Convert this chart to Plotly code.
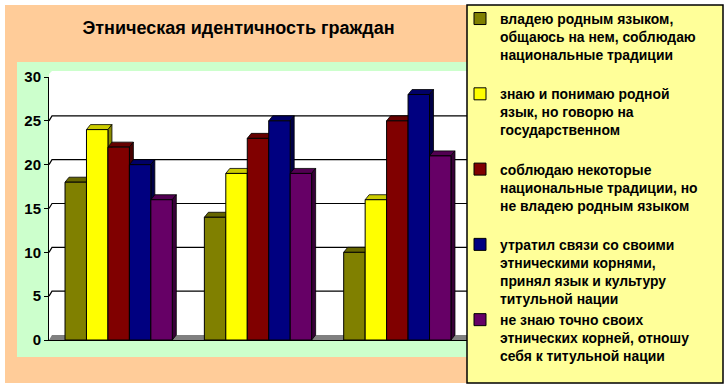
import plotly.graph_objects as go

# ---- data ----
categories = ["Группа 1", "Группа 2", "Группа 3"]
series_names = [
    "владею родным языком,<br>общаюсь на нем, соблюдаю<br>национальные традиции<br> ",
    "знаю и понимаю родной<br>язык, но говорю на<br>государственном<br> ",
    "соблюдаю некоторые<br>национальные традиции, но<br>не владею родным языком<br> ",
    "утратил связи со своими<br>этническими корнями,<br>принял язык и культуру<br>титульной нации",
    "не знаю точно своих<br>этнических корней, отношу<br>себя к титульной нации",
]
values_own_language = [18, 14, 10]
values_understand = [24, 19, 16]
values_some_traditions = [22, 23, 25]
values_lost_roots = [20, 25, 28]
values_unknown_roots = [16, 19, 21]
series_values = [values_own_language, values_understand, values_some_traditions,
                 values_lost_roots, values_unknown_roots]
y_ticks = [0, 5, 10, 15, 20, 25, 30]
title_text = "Этническая идентичность граждан"

# ---- style ----
colors = [(128, 128, 0), (255, 255, 0), (128, 0, 0), (0, 0, 128), (102, 0, 102)]
def rgb(c, k=1.0):
    return "rgb(%d,%d,%d)" % tuple(int(round(v * k)) for v in c)

W, H = 728, 389
L, R, T, B = 49, 467, 77, 340        # plot area in pixels
pw, ph = R - L, B - T
YMAX = 30
def px(X): return (X - L) / pw
def py(Y): return (B - Y) / ph

n = len(series_values)
bargap = 0.23
bw = (1 - bargap) / n
ddx = 4 / (pw / len(categories))     # depth offset in x units
ddy = 5 / (ph / YMAX)                # depth offset in y units
FONT = "Liberation Sans, Arial, sans-serif"

fig = go.Figure()
for j, (name, vals) in enumerate(zip(series_names, series_values)):
    fig.add_trace(go.Bar(
        x=categories, y=vals, name=name,
        marker=dict(color=rgb(colors[j]), line=dict(color="black", width=1)),
    ))

shapes = []
# backgrounds
shapes.append(dict(type="rect", xref="paper", yref="paper", x0=px(5), x1=px(467),
                   y0=py(383), y1=py(5), fillcolor="#FFCC99", line=dict(width=0), layer="below"))
shapes.append(dict(type="rect", xref="paper", yref="paper", x0=px(17), x1=px(467),
                   y0=py(357), y1=py(62), fillcolor="#CCFFCC", line=dict(width=0), layer="below"))
shapes.append(dict(type="path", xref="paper", yref="paper",
                   path="M %f,%f L %f,%f L %f,%f L %f,%f L %f,%f Z" % (
                       px(49), py(340), px(49), py(74), px(52), py(71), px(467), py(71), px(467), py(340)),
                   fillcolor="white", line=dict(width=0), layer="below"))
# floor
shapes.append(dict(type="path", xref="paper", yref="y",
                   path="M %f,0 L %f,%f L 1,%f L 1,0 Z" % (0, px(52), ddy, ddy),
                   fillcolor="#808080", line=dict(width=0), layer="below"))
# wall gridlines with diagonal connectors
for v in y_ticks[1:-1]:
    shapes.append(dict(type="path", xref="paper", yref="y",
                       path="M 0,%f L %f,%f L 1,%f" % (v, px(52), v + ddy, v + ddy),
                       line=dict(color="black", width=1.2), layer="below"))
# 3D faces of bars
for i in range(len(categories)):
    for j in range(n):
        v = series_values[j][i]
        xl = i - (1 - bargap) / 2 + bw * j
        xr = xl + bw
        shapes.append(dict(type="path", xref="x", yref="y",
                           path="M %f,%f L %f,%f L %f,%f L %f,%f Z" % (
                               xl, v, xl + ddx, v + ddy, xr + ddx, v + ddy, xr, v),
                           fillcolor=rgb(colors[j], 0.8), line=dict(color="black", width=0.8),
                           layer="below"))
        shapes.append(dict(type="path", xref="x", yref="y",
                           path="M %f,0 L %f,%f L %f,%f L %f,%f Z" % (
                               xr, xr, v, xr + ddx, v + ddy, xr + ddx, ddy),
                           fillcolor=rgb(colors[j], 0.55), line=dict(color="black", width=0.8),
                           layer="below"))
# legend box
shapes.append(dict(type="rect", xref="paper", yref="paper", x0=px(467), x1=px(723),
                   y0=py(383), y1=py(5), fillcolor="#FFFF99",
                   line=dict(color="black", width=1.5), layer="below"))

fig.update_layout(
    width=W, height=H,
    margin=dict(l=L, r=W - R, t=T, b=H - B, pad=0, autoexpand=False),
    paper_bgcolor="white", plot_bgcolor="rgba(0,0,0,0)",
    barmode="group", bargap=bargap, bargroupgap=0,
    shapes=shapes,
    font=dict(family=FONT, color="black", size=14, weight="bold"),
    title=dict(text=title_text, x=px(238.5), xref="paper", xanchor="center",
               y=1 - 28 / H, yref="container", yanchor="middle",
               font=dict(family=FONT, size=18, color="black", weight="bold")),
    xaxis=dict(showticklabels=False, showgrid=False, zeroline=False, showline=True,
               linecolor="black", linewidth=1, ticks=""),
    yaxis=dict(range=[0, YMAX], tickvals=y_ticks, showgrid=False, zeroline=False,
               showline=True, linecolor="black", linewidth=1, ticks="outside",
               ticklen=4, tickcolor="black", tickwidth=1,
               tickfont=dict(family=FONT, size=15, color="black", weight="bold")),
    legend=dict(x=px(460), xanchor="left", y=py(3), yanchor="top",
                bgcolor="rgba(0,0,0,0)", borderwidth=0, valign="top",
                tracegroupgap=0, itemclick=False, itemdoubleclick=False, maxheight=389,
                font=dict(family=FONT, size=13.9, color="black", weight="bold")),
    showlegend=True,
)

fig.write_html("out.html", post_script="document.body.style.margin='0';",
               config={"displayModeBar": False})
